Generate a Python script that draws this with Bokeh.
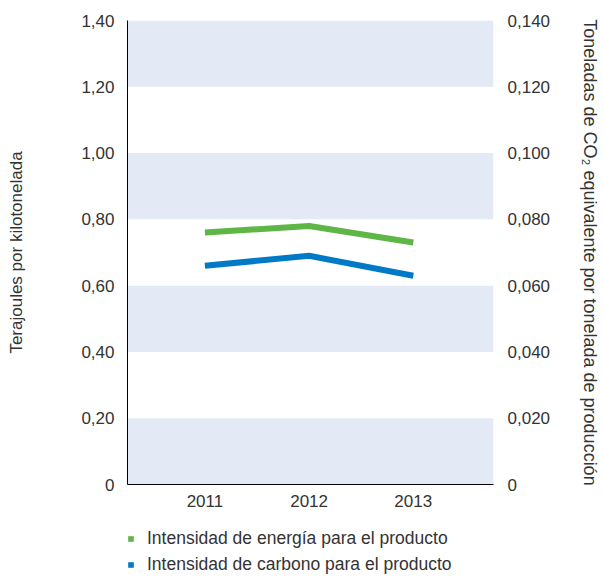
from bokeh.plotting import figure
from bokeh.layouts import column
from bokeh.models import (Range1d, LinearAxis, FixedTicker, CustomJSTickFormatter,
                          Legend, LegendItem)
from bokeh.embed import file_html
from bokeh.resources import INLINE

# ---- data ----
years = [2011, 2012, 2013]
energy_intensity = [0.76, 0.78, 0.73]          # Terajoules por kilotonelada (left axis)
carbon_intensity = [0.066, 0.069, 0.063]       # t CO2e por tonelada (right axis)
left_ticks = [0, 0.2, 0.4, 0.6, 0.8, 1.0, 1.2, 1.4]
right_ticks = [0, 0.02, 0.04, 0.06, 0.08, 0.10, 0.12, 0.14]
band_bottoms = [0, 0.4, 0.8, 1.2]
band_height = 0.2
series_names = ["Intensidad de energía para el producto",
                "Intensidad de carbono para el producto"]

GREEN = "#5db646"
BLUE = "#0079c6"
BAND = "#e4eaf5"
TEXT = "#333333"
FONT = "Liberation Sans"
TICK_FS = "17px"
TITLE_FS = "17px"

X0, X1 = 2010.257, 2013.77

p = figure(width=603, height=520, output_backend="svg", toolbar_location=None,
           x_range=Range1d(X0, X1), y_range=Range1d(0, 1.40),
           min_border_left=127, min_border_right=107, min_border_top=20,
           min_border_bottom=36, outline_line_color=None)
p.extra_y_ranges = {"right": Range1d(0, 0.14)}

p.xgrid.visible = False
p.ygrid.visible = False

# bands
p.quad(left=X0, right=X1, bottom=band_bottoms,
       top=[b + band_height for b in band_bottoms], fill_color=BAND, line_color=None)

# lines
p.line(years, energy_intensity, line_color=GREEN, line_width=6, line_cap="butt")
p.line(years, carbon_intensity, y_range_name="right", line_color=BLUE,
       line_width=6, line_cap="butt")

# axes
fmt_left = CustomJSTickFormatter(code='return tick == 0 ? "0" : tick.toFixed(2).replace(".", ",");')
fmt_right = CustomJSTickFormatter(code='return tick == 0 ? "0" : tick.toFixed(3).replace(".", ",");')


def style_axis(ax):
    ax.major_tick_line_color = None
    ax.minor_tick_line_color = None
    ax.major_tick_out = 0
    ax.major_tick_in = 0
    ax.minor_tick_out = 0
    ax.minor_tick_in = 0
    ax.major_label_text_font_size = TICK_FS
    ax.major_label_text_color = TEXT
    ax.major_label_text_font = FONT
    ax.axis_label_text_font_size = TITLE_FS
    ax.axis_label_text_font_style = "normal"
    ax.axis_label_text_color = TEXT
    ax.axis_label_text_font = FONT


ya = p.yaxis[0]
style_axis(ya)
ya.ticker = FixedTicker(ticks=left_ticks)
ya.formatter = fmt_left
ya.axis_label = "Terajoules por kilotonelada"
ya.axis_line_color = "black"
ya.major_label_standoff = 13
ya.axis_label_standoff = 52

ry = LinearAxis(y_range_name="right", ticker=FixedTicker(ticks=right_ticks),
                formatter=fmt_right,
                axis_label="Toneladas de CO₂ equivalente por tonelada de producción")
style_axis(ry)
ry.axis_label_text_font_size = "18px"
ry.axis_line_color = None
ry.major_label_standoff = 14
ry.axis_label_standoff = 27
p.add_layout(ry, "right")

xa = p.xaxis[0]
style_axis(xa)
xa.ticker = FixedTicker(ticks=years)
xa.axis_line_color = "black"
xa.major_label_standoff = 10

# legend in a separate strip below (proxies: the series data, outside this strip's range)
p2 = figure(width=603, height=57, output_backend="svg", toolbar_location=None,
            x_range=Range1d(0, 1), y_range=Range1d(0, 1),
            min_border=0, outline_line_color=None)
p2.axis.visible = False
p2.grid.visible = False
q1 = p2.quad(left=years, right=years, bottom=energy_intensity, top=energy_intensity,
             fill_color=GREEN, line_color=None)
q2 = p2.quad(left=years, right=years, bottom=carbon_intensity, top=carbon_intensity,
             fill_color=BLUE, line_color=None)

legend = Legend(items=[LegendItem(label=series_names[0], renderers=[q1], index=0),
                       LegendItem(label=series_names[1], renderers=[q2], index=0)],
                location=(0, 2), orientation="vertical",
                glyph_width=7, glyph_height=7, label_height=18, spacing=5,
                padding=0, margin=0, label_standoff=13,
                border_line_color=None, background_fill_alpha=0,
                label_text_font_size="17.5px", label_text_color=TEXT,
                label_text_font=FONT)
p2.add_layout(legend, "center")

layout = column(p, p2, spacing=0)
open("out.html", "w").write(file_html(layout, INLINE))
